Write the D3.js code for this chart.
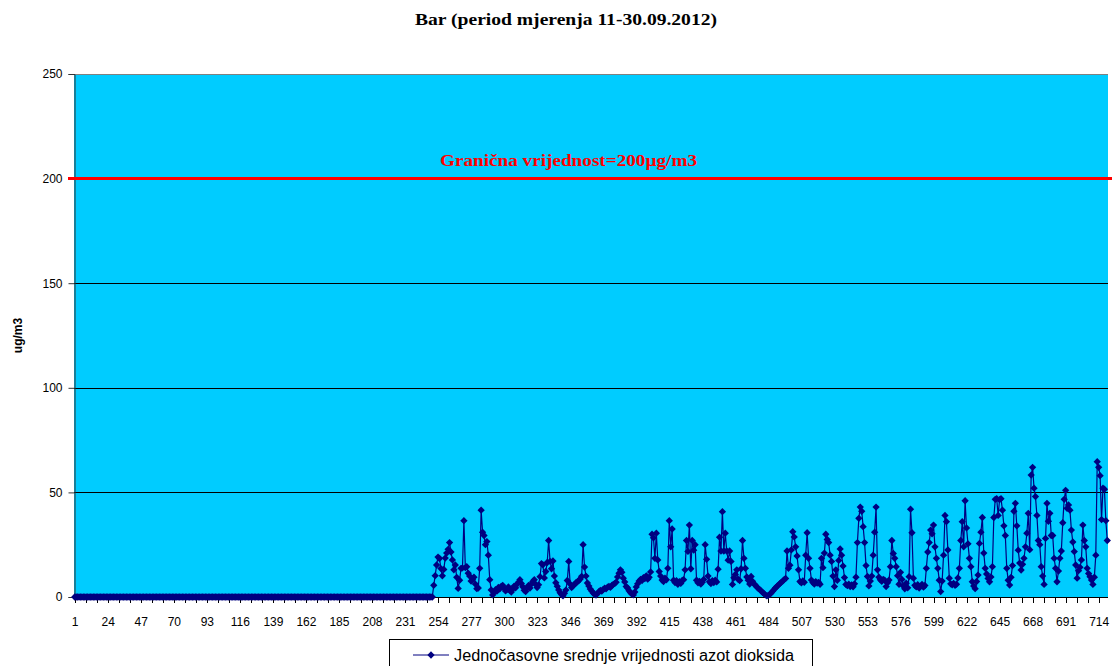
<!DOCTYPE html>
<html>
<head>
<meta charset="utf-8">
<script src="https://cdn.jsdelivr.net/npm/d3@7"></script>
<style>
  body { margin: 0; background: #fff; }
  svg { display: block; }
</style>
</head>
<body>
<div id="chart"></div>
<script>
// hourly NO2 values, hours 1..250 were all zero
const zeroHours = [
  0,0,0,0,0,0,0,0,0,0,0,0,0,0,0,0,0,0,0,0,0,0,0,0,0,
  0,0,0,0,0,0,0,0,0,0,0,0,0,0,0,0,0,0,0,0,0,0,0,0,0,
  0,0,0,0,0,0,0,0,0,0,0,0,0,0,0,0,0,0,0,0,0,0,0,0,0,
  0,0,0,0,0,0,0,0,0,0,0,0,0,0,0,0,0,0,0,0,0,0,0,0,0,
  0,0,0,0,0,0,0,0,0,0,0,0,0,0,0,0,0,0,0,0,0,0,0,0,0,
  0,0,0,0,0,0,0,0,0,0,0,0,0,0,0,0,0,0,0,0,0,0,0,0,0,
  0,0,0,0,0,0,0,0,0,0,0,0,0,0,0,0,0,0,0,0,0,0,0,0,0,
  0,0,0,0,0,0,0,0,0,0,0,0,0,0,0,0,0,0,0,0,0,0,0,0,0,
  0,0,0,0,0,0,0,0,0,0,0,0,0,0,0,0,0,0,0,0,0,0,0,0,0,
  0,0,0,0,0,0,0,0,0,0,0,0,0,0,0,0,0,0,0,0,0,0,0,0,0
];
const measuredHours = [
  5.6, 10.2, 15.3, 19.1, 18.4, 13.6, 10.1, 13.2, 18.6, 21.0,
  22.8, 26.0, 21.5, 17.7, 13.0, 15.3, 9.4, 4.1, 8.0, 13.7,
  13.9, 36.5, 14.0, 14.5, 11.4, 10.0, 7.6, 8.3, 9.5, 6.2,
  4.0, 4.3, 13.7, 41.5, 31.0, 29.4, 25.0, 26.5, 20.0, 8.3,
  3.4, 1.0, 2.1, 3.5, 2.8, 4.6, 3.9, 5.1, 5.6, 4.2,
  2.9, 3.6, 4.8, 3.1, 2.4, 3.8, 5.2, 4.4, 6.1, 7.0,
  8.3, 6.5, 4.9, 3.2, 2.6, 4.1, 5.5, 4.3, 6.2, 7.4,
  8.3, 6.0, 4.5, 5.8, 9.7, 16.0, 15.4, 9.1, 12.2, 16.5,
  27.0, 17.0, 13.5, 17.2, 10.0, 6.8, 5.1, 3.4, 2.0, 1.2,
  0.6, 1.8, 3.3, 7.9, 17.0, 6.2, 4.5, 5.3, 6.0, 6.8,
  7.2, 7.9, 8.6, 9.9, 25.0, 14.3, 10.0, 6.7, 5.2, 3.8,
  2.9, 1.9, 1.3, 0.9, 1.7, 2.5, 3.1, 2.8, 3.6, 4.2,
  3.9, 4.7, 5.1, 4.6, 5.5, 6.0, 6.4, 7.1, 9.6, 11.4,
  13.0, 11.8, 9.0, 7.2, 5.0, 4.3, 3.0, 2.1, 1.4, 1.0,
  2.4, 4.8, 6.3, 7.6, 8.4, 7.9, 9.2, 8.8, 10.1, 8.5,
  9.4, 12.0, 30.0, 28.3, 18.5, 30.5, 17.7, 12.2, 10.0, 8.1,
  7.4, 9.0, 8.2, 13.7, 36.5, 24.0, 32.5, 8.0, 6.9, 7.8,
  6.1, 7.3, 6.5, 7.9, 8.3, 13.0, 27.0, 21.8, 34.4, 13.5,
  27.0, 22.4, 25.0, 8.0, 6.8, 7.5, 6.2, 7.1, 8.4, 25.0,
  18.0, 10.0, 7.3, 6.4, 7.8, 6.9, 8.0, 7.2, 13.3, 28.6,
  22.0, 40.8, 22.0, 30.5, 22.0, 17.6, 22.0, 17.0, 6.0, 9.2,
  10.8, 13.0, 8.4, 7.9, 13.5, 27.0, 18.5, 13.7, 9.6, 8.0,
  6.2, 9.8, 7.5, 6.3, 5.6, 4.8, 4.1, 3.5, 2.9, 2.2,
  1.6, 1.0, 0.5, 0.8, 1.3, 2.0, 2.7, 3.6, 4.4, 5.1,
  5.7, 6.4, 7.0, 7.6, 8.3, 8.9, 22.0, 13.7, 15.2, 22.5,
  31.2, 28.7, 24.0, 19.6, 13.0, 7.4, 6.8, 7.7, 7.0, 20.0,
  30.7, 18.5, 13.7, 8.1, 6.9, 6.2, 7.3, 6.6, 7.0, 6.1,
  18.5, 14.0, 21.0, 30.0, 27.5, 26.0, 20.0, 17.0, 10.0, 5.0,
  13.0, 8.0, 17.5, 23.0, 20.0, 14.8, 9.3, 6.0, 5.4, 6.1,
  5.0, 5.8, 4.9, 6.3, 9.5, 26.0, 37.6, 43.0, 41.0, 33.6,
  26.0, 15.0, 9.8, 5.3, 7.6, 10.0, 20.0, 31.0, 43.0, 13.0,
  9.5, 8.2, 7.5, 8.4, 8.0, 5.0, 6.8, 8.1, 14.5, 27.0,
  20.8, 18.5, 14.5, 10.2, 6.1, 11.8, 8.4, 5.2, 3.9, 6.6,
  4.4, 9.7, 42.0, 30.7, 9.0, 5.6, 4.8, 5.9, 4.3, 5.2,
  6.0, 4.7, 5.5, 13.7, 21.5, 26.0, 32.0, 30.2, 34.4, 24.0,
  18.5, 13.7, 8.0, 2.6, 7.6, 20.0, 39.0, 36.0, 22.5, 9.0,
  6.3, 5.8, 6.5, 5.6, 6.1, 9.1, 13.7, 27.0, 36.0, 24.0,
  46.0, 33.0, 25.4, 18.5, 14.5, 7.3, 5.2, 4.0, 7.4, 10.5,
  25.6, 31.0, 38.0, 21.0, 13.7, 11.0, 8.9, 7.3, 9.6, 14.5,
  38.0, 46.7, 47.0, 39.0, 46.5, 47.0, 41.5, 34.0, 29.4, 13.7,
  8.0, 5.7, 9.4, 15.0, 41.0, 44.8, 34.0, 22.4, 16.2, 12.9,
  15.6, 18.5, 24.0, 30.5, 40.0, 22.6, 58.3, 62.0, 52.0, 48.0,
  39.0, 27.0, 25.0, 14.5, 10.0, 6.0, 28.0, 44.8, 36.2, 40.0,
  29.4, 29.4, 18.5, 13.7, 7.3, 12.4, 18.5, 22.0, 35.5, 46.7,
  51.0, 42.4, 44.0, 41.5, 32.0, 26.3, 21.7, 15.3, 9.0, 12.6,
  14.2, 17.7, 34.4, 27.0, 24.0, 13.7, 11.2, 9.7, 8.1, 6.0,
  9.5, 20.0, 64.7, 62.0, 58.0, 37.0, 52.0, 51.5, 36.5, 27.0
];
const xTickLabels = [1, 24, 47, 70, 93, 116, 139, 162, 185, 208, 231, 254, 277, 300,
  323, 346, 369, 392, 415, 438, 461, 484, 507, 530, 553, 576, 599, 622, 645, 668, 691, 714];
const yTicks = [0, 50, 100, 150, 200, 250];
const limitValue = 200;
const seriesName = 'Jednočasovne srednje vrijednosti azot dioksida';

const values = zeroHours.concat(measuredHours);
const hours = values.map((_v, i) => i + 1);
const data = hours.map((h, i) => ({hour: h, value: values[i]}));

const width = 1112;
const height = 666;
const plot = {left: 74, right: 1108, top: 74, bottom: 597};
const navy = '#000080';

const svg = d3.select('#chart')
    .append('svg')
    .attr('width', width)
    .attr('height', height);

const x = d3.scalePoint()
    .domain(hours)
    .range([plot.left, plot.right])
    .padding(0.5);
// continuous twin of x, used for the tick marks that fall between hours
const xLin = d3.scaleLinear()
    .domain([0.5, hours.length + 0.5])
    .range([plot.left, plot.right]);
const y = d3.scaleLinear()
    .domain([0, 250])
    .range([plot.bottom, plot.top]);

svg.append('text')
    .attr('x', 415)
    .attr('y', 25)
    .attr('textLength', 302)
    .attr('lengthAdjust', 'spacingAndGlyphs')
    .style('font-family', 'Liberation Serif, serif')
    .style('font-weight', 'bold')
    .style('font-size', '17px')
    .text('Bar (period mjerenja 11-30.09.2012)');

svg.append('rect')
    .attr('x', plot.left)
    .attr('y', plot.top)
    .attr('width', plot.right - plot.left)
    .attr('height', plot.bottom - plot.top)
    .attr('fill', '#00CCFF');

svg.append('line')
    .attr('x1', plot.left).attr('x2', plot.right)
    .attr('y1', plot.top + 0.5).attr('y2', plot.top + 0.5)
    .attr('stroke', '#808080');

svg.append('g')
    .selectAll('line')
    .data(yTicks.filter((t) => t > 0 && t < 250 && t !== limitValue))
    .join('line')
    .attr('x1', plot.left).attr('x2', plot.right)
    .attr('y1', (d) => Math.round(y(d)) + 0.5)
    .attr('y2', (d) => Math.round(y(d)) + 0.5)
    .attr('stroke', '#000');

const yAxis = svg.append('g')
    .attr('transform', `translate(${plot.left + 0.5},0)`)
    .call(d3.axisLeft(y).tickValues(yTicks).tickSize(6).tickPadding(6));
yAxis.select('.domain').attr('stroke', '#333');
yAxis.selectAll('.tick line').attr('stroke', '#333');
yAxis.selectAll('text')
    .style('font-family', 'Liberation Sans, Arial, sans-serif')
    .style('font-size', '12px')
    .attr('fill', '#000');

svg.append('text')
    .attr('transform', `translate(22,${(plot.top + plot.bottom) / 2}) rotate(-90)`)
    .attr('text-anchor', 'middle')
    .style('font-family', 'Liberation Sans, Arial, sans-serif')
    .style('font-weight', 'bold')
    .style('font-size', '12px')
    .text('ug/m3');

// limit line
svg.append('line')
    .attr('x1', plot.left - 6).attr('x2', width)
    .attr('y1', y(limitValue)).attr('y2', y(limitValue))
    .attr('stroke', '#FF0000')
    .attr('stroke-width', 3);

svg.append('text')
    .attr('x', 440)
    .attr('y', 166)
    .attr('textLength', 257)
    .attr('lengthAdjust', 'spacingAndGlyphs')
    .attr('fill', '#FF0000')
    .style('font-family', 'Liberation Serif, serif')
    .style('font-weight', 'bold')
    .style('font-size', '17px')
    .text('Granična vrijednost=200µg/m3');

// x axis
const xAxis = svg.append('g')
    .attr('transform', `translate(0,${plot.bottom + 0.5})`)
    .call(d3.axisBottom(x).tickValues(xTickLabels).tickSize(0).tickPadding(20));
xAxis.select('.domain').remove();
xAxis.selectAll('text')
    .style('font-family', 'Liberation Sans, Arial, sans-serif')
    .style('font-size', '12px')
    .attr('fill', '#000');

const tickPositions = d3.range(0, 94).map((k) => 1 + k * 23 / 3);
svg.append('g')
    .selectAll('line')
    .data(tickPositions)
    .join('line')
    .attr('x1', (d) => Math.round(xLin(d)) + 0.5)
    .attr('x2', (d) => Math.round(xLin(d)) + 0.5)
    .attr('y1', plot.bottom)
    .attr('y2', plot.bottom + 6)
    .attr('stroke', '#000');

svg.append('line')
    .attr('x1', plot.left).attr('x2', plot.right)
    .attr('y1', plot.bottom + 0.5).attr('y2', plot.bottom + 0.5)
    .attr('stroke', '#000');

// series
const line = d3.line()
    .x((d) => x(d.hour))
    .y((d) => y(d.value));

svg.append('path')
    .datum(data)
    .attr('fill', 'none')
    .attr('stroke', navy)
    .attr('stroke-width', 1.2)
    .attr('d', line);

const diamond = d3.symbol().type(d3.symbolDiamond2).size(34);
svg.append('g')
    .selectAll('path')
    .data(data)
    .join('path')
    .attr('transform', (d) => `translate(${x(d.hour)},${y(d.value)})`)
    .attr('d', diamond)
    .attr('fill', navy);

// legend
const legend = svg.append('g');
legend.append('rect')
    .attr('x', 389.5)
    .attr('y', 639.5)
    .attr('width', 423)
    .attr('height', 40)
    .attr('fill', '#fff')
    .attr('stroke', '#000');
legend.append('line')
    .attr('x1', 413).attr('x2', 449)
    .attr('y1', 655).attr('y2', 655)
    .attr('stroke', navy);
legend.append('path')
    .attr('transform', 'translate(431,655)')
    .attr('d', diamond)
    .attr('fill', navy);
legend.append('text')
    .attr('x', 454)
    .attr('y', 661)
    .attr('textLength', 340)
    .attr('lengthAdjust', 'spacingAndGlyphs')
    .style('font-family', 'Liberation Sans, Arial, sans-serif')
    .style('font-size', '16px')
    .text(seriesName);
</script>
</body>
</html>
